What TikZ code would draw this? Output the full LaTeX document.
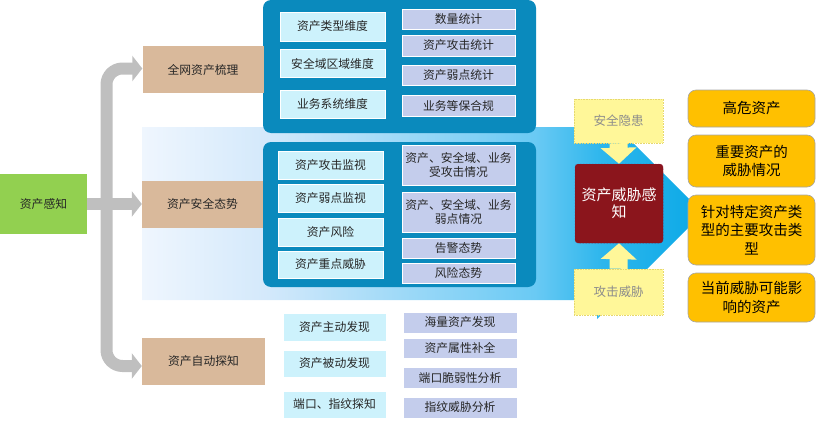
\documentclass[tikz,border=0pt]{standalone}
\usepackage{fontspec}
\setmainfont{Noto Sans CJK SC}
\usetikzlibrary{arrows.meta}
\definecolor{bandA}{HTML}{EFF6FE}
\definecolor{bandB}{HTML}{D4E9FB}
\definecolor{bandC}{HTML}{6ACAF4}
\definecolor{bandD}{HTML}{2DB6EC}
\definecolor{bandE}{HTML}{0BA9E7}
\definecolor{contblue}{HTML}{0A8ABD}
\definecolor{lcyan}{HTML}{CDF2FC}
\definecolor{lav}{HTML}{C4CDEC}
\definecolor{tan}{HTML}{D9B99B}
\definecolor{lgreen}{HTML}{92D050}
\definecolor{arrgray}{HTML}{BFBFBF}
\definecolor{ylw}{HTML}{FFF799}
\definecolor{ylwline}{HTML}{E6D870}
\definecolor{darkred}{HTML}{8B151C}
\definecolor{orng}{HTML}{FFC000}
\definecolor{txt}{HTML}{262626}
\pgfdeclarehorizontalshading{bandshade}{100bp}{color(0bp)=(bandA); color(25bp)=(bandA); color(36bp)=(bandB); color(60bp)=(bandC); color(66bp)=(bandD); color(75bp)=(bandE); color(100bp)=(bandE)}
\tikzset{
  base/.style={rectangle, inner sep=0pt, align=center, text=txt, font=\fontsize{11.8}{13.6}\selectfont},
  lbox/.style={base, fill=lcyan, draw=white, line width=0.6pt},
  rbox/.style={base, fill=lav, draw=white, line width=0.6pt},
  tanbox/.style={base, fill=tan, minimum width=121pt, minimum height=47pt},
  greenbox/.style={base, fill=lgreen},
  cont/.style={rectangle, fill=contblue, rounded corners=8pt, inner sep=0pt},
  ybox/.style={base, fill=ylw, draw=ylwline, densely dotted, line width=0.6pt, text=black!45, font=\fontsize{12.5}{15}\selectfont, minimum width=89pt},
  redbox/.style={base, fill=darkred, draw=darkred!70!violet, densely dotted, line width=0.5pt, rounded corners=3pt, text=white, font=\fontsize{15}{17}\selectfont},
  obox/.style={base, fill=orng, draw=black!35, line width=0.6pt, rounded corners=8pt, text=black, font=\fontsize{14.5}{18.3}\selectfont, minimum width=127pt},
  grayarrow/.style={draw=arrgray, line width=12pt, -{Triangle[width=25pt,length=10pt]}},
  yarrow/.style={draw=ylw, line width=18pt, -{Triangle[width=35pt,length=16pt]}},
}
\begin{document}
\begin{tikzpicture}[x=1pt,y=-1pt]
\useasboundingbox (0,0) rectangle (817,423);
% big blue band arrow
\shade[shading=bandshade] (142,127) -- (597,127) -- (597,107) -- (703,213) -- (597,319) -- (597,300) -- (142,300) -- cycle;
% containers
\node[cont, minimum width=273pt, minimum height=133pt] (C1) at (399.5,66.5) {};
\node[cont, minimum width=273pt, minimum height=145pt] (C2) at (399.5,214.5) {};
% left
\node[greenbox, minimum width=87pt, minimum height=60pt] (g) at (43.5,204) {资产感知};
\node[tanbox] (t1) at (203,69.5) {全网资产梳理};
\node[tanbox] (t2) at (202.5,204) {资产安全态势};
\node[tanbox, minimum width=123pt] (t3) at (203.5,361.5) {资产自动探知};
\coordinate (split) at (106.5,204);
\draw[grayarrow, rounded corners=16pt] (split) |- ([yshift=1pt]t1.west);
\draw[grayarrow, rounded corners=16pt] (split) |- ([yshift=-4.5pt]t3.west);
\draw[grayarrow] (g.east) -- (t2.west);
% top container boxes
\node[lbox, minimum width=105pt, minimum height=29pt] (a1) at (332.5,26.5) {资产类型维度};
\node[lbox, minimum width=105pt, minimum height=28pt] (a2) at (332.5,63.5) {安全域区域维度};
\node[lbox, minimum width=105pt, minimum height=28pt] (a3) at (332.5,104) {业务系统维度};
\node[rbox, minimum width=113pt, minimum height=20pt] (b1) at (458.5,19) {数量统计};
\node[rbox, minimum width=113pt, minimum height=21pt] (b2) at (458.5,45.5) {资产攻击统计};
\node[rbox, minimum width=113pt, minimum height=20pt] (b3) at (458.5,75) {资产弱点统计};
\node[rbox, minimum width=113pt, minimum height=21pt] (b4) at (458.5,105.5) {业务等保合规};
% middle container boxes
\node[lbox, minimum width=105pt, minimum height=28pt] (c1) at (330.5,165) {资产攻击监视};
\node[lbox, minimum width=105pt, minimum height=28pt] (c2) at (330.5,198) {资产弱点监视};
\node[lbox, minimum width=105pt, minimum height=28pt] (c3) at (330.5,232) {资产风险};
\node[lbox, minimum width=105pt, minimum height=27pt] (c4) at (330.5,264.5) {资产重点威胁};
\node[rbox, minimum width=113pt, minimum height=40pt] (d1) at (458.5,165) {资产、安全域、业务\\受攻击情况};
\node[rbox, minimum width=113pt, minimum height=40pt] (d2) at (458.5,212) {资产、安全域、业务\\弱点情况};
\node[rbox, minimum width=113pt, minimum height=20pt] (d3) at (458.5,248) {告警态势};
\node[rbox, minimum width=113pt, minimum height=20pt] (d4) at (458.5,273) {风险态势};
% bottom boxes
\node[lbox, minimum width=103pt, minimum height=28pt] (e1) at (334.5,327) {资产主动发现};
\node[lbox, minimum width=103pt, minimum height=27pt] (e2) at (334.5,363.5) {资产被动发现};
\node[lbox, minimum width=103pt, minimum height=27pt] (e3) at (334.5,404.5) {端口、指纹探知};
\node[rbox, minimum width=114pt, minimum height=21pt] (f1) at (460,322.5) {海量资产发现};
\node[rbox, minimum width=114pt, minimum height=20pt] (f2) at (460,348) {资产属性补全};
\node[rbox, minimum width=114pt, minimum height=21pt] (f3) at (460,377.5) {端口脆弱性分析};
\node[rbox, minimum width=114pt, minimum height=21pt] (f4) at (460,407.5) {指纹威胁分析};
% threat perception
\node[ybox, minimum height=44pt] (y1) at (618.5,121) {安全隐患};
\node[ybox, minimum height=46pt] (y2) at (618.5,292) {攻击威胁};
\node[redbox, minimum width=88pt, minimum height=79pt] (red) at (619,203.5) {资产威胁感\\知};
\draw[yarrow] (y1.south) -- (red.north);
\draw[yarrow] (y2.north) -- (red.south);
% outputs
\node[obox, minimum height=37pt] (o1) at (751.5,108.5) {高危资产};
\node[obox, minimum height=52pt] (o2) at (751.5,161) {重要资产的\\威胁情况};
\node[obox, minimum height=70pt] (o3) at (751.5,230) {针对特定资产类\\型的主要攻击类\\型};
\node[obox, minimum height=49pt] (o4) at (751.5,297.5) {当前威胁可能影\\响的资产};
\end{tikzpicture}
\end{document}
